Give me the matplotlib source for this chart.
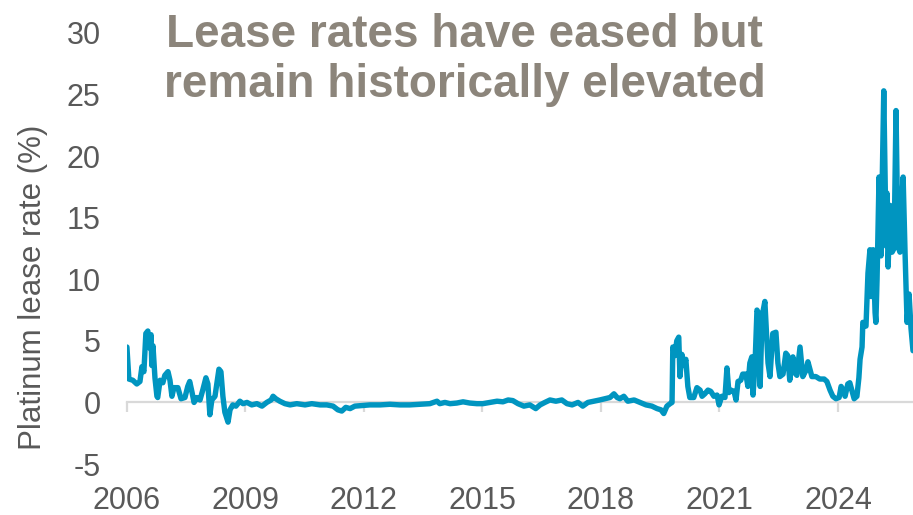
import matplotlib
matplotlib.use("Agg")
import matplotlib.pyplot as plt

plt.rcParams['font.family'] = ['Liberation Sans', 'DejaVu Sans']

# Platinum lease rate (%), decimal year vs. rate
years = [
    2006.00, 2006.05, 2006.15, 2006.25, 2006.33, 2006.38, 2006.43, 2006.48, 2006.53, 2006.58,
    2006.61, 2006.63, 2006.66, 2006.71, 2006.76, 2006.78, 2006.84, 2006.91, 2006.96, 2007.04,
    2007.09, 2007.14, 2007.19, 2007.29, 2007.37, 2007.47, 2007.54, 2007.59, 2007.65, 2007.70,
    2007.77, 2007.85, 2007.92, 2008.00, 2008.05, 2008.10, 2008.15, 2008.23, 2008.28, 2008.33,
    2008.38, 2008.43, 2008.48, 2008.56, 2008.61, 2008.68, 2008.76, 2008.86, 2008.94, 2009.04,
    2009.16, 2009.29, 2009.42, 2009.54, 2009.65, 2009.70, 2009.77, 2009.87, 2010.00, 2010.13,
    2010.30, 2010.51, 2010.68, 2010.89, 2011.06, 2011.22, 2011.34, 2011.44, 2011.54, 2011.65,
    2011.77, 2011.95, 2012.15, 2012.41, 2012.66, 2012.91, 2013.16, 2013.42, 2013.67, 2013.85,
    2013.92, 2014.05, 2014.18, 2014.35, 2014.51, 2014.68, 2014.86, 2015.01, 2015.19, 2015.37,
    2015.52, 2015.65, 2015.77, 2015.90, 2016.05, 2016.20, 2016.35, 2016.46, 2016.58, 2016.71,
    2016.86, 2017.01, 2017.14, 2017.27, 2017.42, 2017.54, 2017.67, 2017.82, 2017.97, 2018.10,
    2018.23, 2018.33, 2018.41, 2018.48, 2018.58, 2018.68, 2018.84, 2018.99, 2019.14, 2019.29,
    2019.42, 2019.52, 2019.59, 2019.67, 2019.75, 2019.80, 2019.82, 2019.87, 2019.92, 2019.97,
    2020.00, 2020.05, 2020.10, 2020.15, 2020.20, 2020.25, 2020.35, 2020.43, 2020.51, 2020.56,
    2020.63, 2020.71, 2020.78, 2020.86, 2020.94, 2020.99, 2021.06, 2021.14, 2021.19, 2021.24,
    2021.29, 2021.37, 2021.42, 2021.47, 2021.54, 2021.59, 2021.67, 2021.72, 2021.77, 2021.82,
    2021.85, 2021.90, 2021.95, 2022.00, 2022.03, 2022.08, 2022.15, 2022.23, 2022.28, 2022.35,
    2022.43, 2022.48, 2022.53, 2022.61, 2022.68, 2022.73, 2022.78, 2022.86, 2022.91, 2022.96,
    2023.04, 2023.11, 2023.19, 2023.24, 2023.34, 2023.44, 2023.54, 2023.65, 2023.72, 2023.80,
    2023.87, 2023.95, 2024.03, 2024.08, 2024.13, 2024.18, 2024.25, 2024.30, 2024.35, 2024.41,
    2024.48, 2024.53, 2024.56, 2024.61, 2024.63, 2024.71, 2024.76, 2024.81, 2024.84, 2024.89,
    2024.94, 2024.96, 2024.99, 2025.04, 2025.09, 2025.11, 2025.16, 2025.22, 2025.24, 2025.27,
    2025.32, 2025.37, 2025.42, 2025.47, 2025.52, 2025.57, 2025.59, 2025.65, 2025.70, 2025.75,
    2025.80, 2025.85, 2025.90,
]
lease_rate = [
    4.5, 1.9, 1.8, 1.5, 1.7, 2.9, 2.5, 5.6, 5.8, 4.4,
    5.5, 3.0, 4.6, 2.0, 0.5, 0.4, 1.8, 1.6, 2.2, 2.5,
    1.8, 0.5, 1.2, 1.2, 0.3, 0.4, 1.3, 1.7, 0.8, 0.0,
    0.4, 0.2, 1.0, 2.0, 1.5, -1.0, 0.2, 0.5, 1.6, 2.7,
    2.5, 0.5, -0.8, -1.6, -0.6, -0.2, -0.3, 0.1, -0.1, 0.0,
    -0.2, -0.1, -0.3, 0.0, 0.2, 0.5, 0.3, 0.1, -0.1, -0.2,
    -0.1, -0.2, -0.1, -0.2, -0.2, -0.3, -0.6, -0.7, -0.4, -0.5,
    -0.3, -0.25, -0.2, -0.2, -0.15, -0.2, -0.2, -0.15, -0.1, 0.1,
    -0.1, 0.0, -0.1, -0.05, 0.05, -0.05, -0.1, -0.1, 0.0, 0.1,
    0.05, 0.2, 0.15, -0.1, -0.3, -0.2, -0.5, -0.2, 0.0, 0.2,
    0.1, 0.2, -0.1, -0.2, 0.0, -0.3, 0.0, 0.1, 0.2, 0.3,
    0.4, 0.7, 0.4, 0.3, 0.5, 0.1, 0.2, 0.0, -0.2, -0.3,
    -0.5, -0.6, -0.9, -0.3, -0.1, 0.0, 4.5, 3.8, 5.0, 5.3,
    2.1, 3.9, 3.0, 3.5, 1.3, 0.4, 0.4, 1.2, 1.0, 0.5,
    0.7, 1.0, 0.9, 0.5, 0.6, -0.2, 0.5, 0.4, 2.8, 0.8,
    1.0, 0.9, 0.2, 1.7, 1.8, 2.3, 2.3, 1.3, 3.2, 3.7,
    0.6, 3.0, 7.5, 7.2, 1.3, 7.0, 8.2, 3.2, 2.1, 5.6,
    5.7, 3.2, 2.1, 2.3, 4.0, 3.8, 1.8, 3.7, 2.4, 2.2,
    4.5, 2.1, 2.6, 3.3, 2.1, 2.1, 1.9, 1.9, 1.7, 1.0,
    0.5, 0.3, 0.4, 1.3, 1.0, 0.5, 1.5, 1.6, 1.0, 0.3,
    0.5, 2.0, 3.5, 4.5, 6.5, 6.2, 10.5, 12.4, 8.6, 12.4,
    7.3, 6.5, 10.0, 18.3, 11.9, 16.0, 25.3, 12.7, 17.0, 11.0,
    16.0, 12.2, 12.5, 23.7, 12.7, 12.2, 15.0, 18.3, 12.0, 6.5,
    8.8, 6.0, 4.2,
]

x_ticks = [2006, 2009, 2012, 2015, 2018, 2021, 2024]
x_labels = ['2006', '2009', '2012', '2015', '2018', '2021', '2024']
y_ticks = [-5, 0, 5, 10, 15, 20, 25, 30]

title_lines = ['Lease rates have eased but', 'remain historically elevated']

LINE_BLUE = '#0095C0'
TEXT_GREY = '#595959'
AXIS_GREY = '#D9D9D9'
TITLE_COLOR = '#8C857B'

fig = plt.figure(figsize=(9.13, 5.15), dpi=100)
ax = fig.add_axes([0.139, 0.099, 0.861, 0.837])

ax.plot(years, lease_rate, color=LINE_BLUE, linewidth=3.9,
        solid_joinstyle='round', solid_capstyle='round', zorder=3)

ax.set_xlim(2006, 2025.9)
ax.set_ylim(-5, 30)

for side in ('top', 'right', 'left'):
    ax.spines[side].set_visible(False)
ax.spines['bottom'].set_position(('data', 0))
ax.spines['bottom'].set_color(AXIS_GREY)
ax.spines['bottom'].set_linewidth(1.6)

ax.set_xticks(x_ticks)
ax.set_xticklabels(x_labels)
ax.set_yticks(y_ticks)
ax.set_yticklabels([str(v) for v in y_ticks])

ax.tick_params(axis='x', length=7, width=1.6, color=AXIS_GREY, direction='out',
               labelsize=22, labelcolor=TEXT_GREY, pad=53)
ax.tick_params(axis='y', length=0, labelsize=22, labelcolor=TEXT_GREY, pad=19)

ax.set_ylabel('Platinum lease rate (%)', fontsize=22.5, color=TEXT_GREY)
ax.yaxis.set_label_coords(-0.1, 0.41)

fig.text(0.509, 0.9087, title_lines[0], ha='center', va='baseline',
         fontsize=33, fontweight='bold', color=TITLE_COLOR)
fig.text(0.509, 0.8117, title_lines[1], ha='center', va='baseline',
         fontsize=33, fontweight='bold', color=TITLE_COLOR)

fig.savefig('out.png', dpi=100)
